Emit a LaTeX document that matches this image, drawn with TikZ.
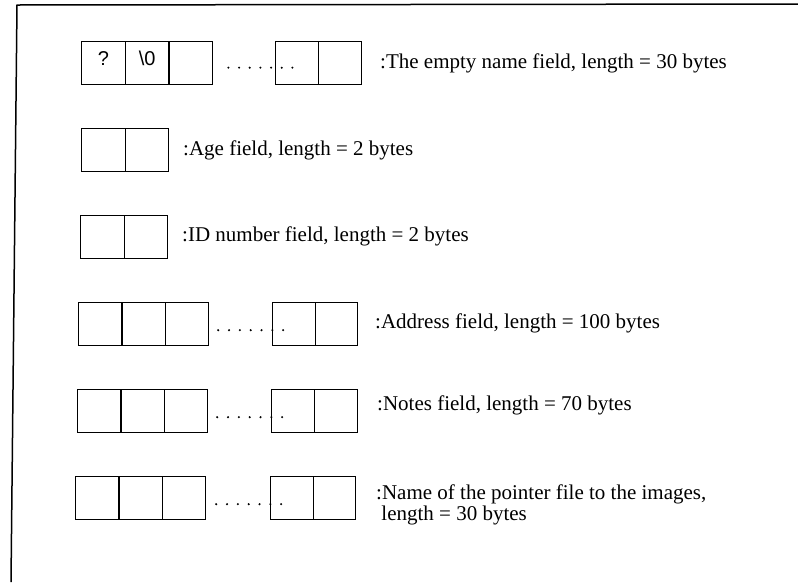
\documentclass[tikz,border=0pt]{standalone}
\usepackage{fontspec}
\setmainfont{Liberation Serif}
\newfontfamily\cellfont{Liberation Sans}
\tikzset{
  x=1pt, y=-1pt,
  cellbox/.style={draw, line width=1.3pt, rectangle, inner sep=0pt, minimum height=43pt, anchor=north west},
  celltext/.style={inner sep=0pt, font=\cellfont\fontsize{20}{20}\selectfont},
  fieldlabel/.style={anchor=west, inner sep=0pt, align=left, font=\fontsize{21}{21}\selectfont},
  frameline/.style={line width=1.5pt}
}
\newcommand\cellrow[5]{% prefix, x0, y0, n, width
  \foreach \i in {1,...,#4} {
    \node[cellbox, minimum width=#5pt] (#1-\i) at ({#2+(\i-1)*#5}, #3) {};
  }
}
% seven dots to the right of a node anchor: node, first offset, y offset, spacing
\newcommand\dotrun[4]{%
  \foreach \k in {0,...,6} {
    \fill ([xshift={#2+\k*#4}, yshift=#3]#1.east) circle (1.15pt);
  }
}
\begin{document}
\begin{tikzpicture}
\useasboundingbox (0,0) rectangle (798,582);
% frame
\draw[frameline] (11,582) -- (17,5) -- (798,4);

% row 1: name
\cellrow{ra}{81}{41}{3}{43.7}
\cellrow{rb}{275}{41}{2}{43}
\node[celltext] (qa) at ([yshift=5pt]ra-1.center) {?};
\node[celltext] (qb) at ([yshift=5pt]ra-2.center) {\textbackslash 0};
\dotrun{ra-3}{15pt}{-4.5pt}{10.67pt}
\node[fieldlabel] (la) at (380,63) {:The empty name field, length = 30 bytes};

% row 2: age
\cellrow{rc}{81}{128}{2}{43.5}
\node[fieldlabel] (lb) at (183,150) {:Age field, length = 2 bytes};

% row 3: ID
\cellrow{rd}{80}{215}{2}{43.5}
\node[fieldlabel] (lc) at (182,236) {:ID number field, length = 2 bytes};

% row 4: address
\cellrow{re}{78}{302}{3}{43.3}
\cellrow{rf}{272}{302}{2}{42.5}
\dotrun{re-3}{9pt}{-6pt}{10.83pt}
\node[fieldlabel] (ld) at (375,323) {:Address field, length = 100 bytes};

% row 5: notes
\cellrow{rg}{77}{389}{3}{43.3}
\cellrow{rh}{271}{389}{2}{43}
\dotrun{rg-3}{9pt}{-6pt}{10.83pt}
\node[fieldlabel] (le) at (377,405) {:Notes field, length = 70 bytes};

% row 6: pointer file
\cellrow{ri}{75}{476}{3}{43.3}
\cellrow{rj}{270}{476}{2}{42.5}
\dotrun{ri-3}{10pt}{-6pt}{10.83pt}
\node[fieldlabel] (lf) at (376,505) {:Name of the pointer file to the images,\\ \ length = 30 bytes};
\end{tikzpicture}
\end{document}
